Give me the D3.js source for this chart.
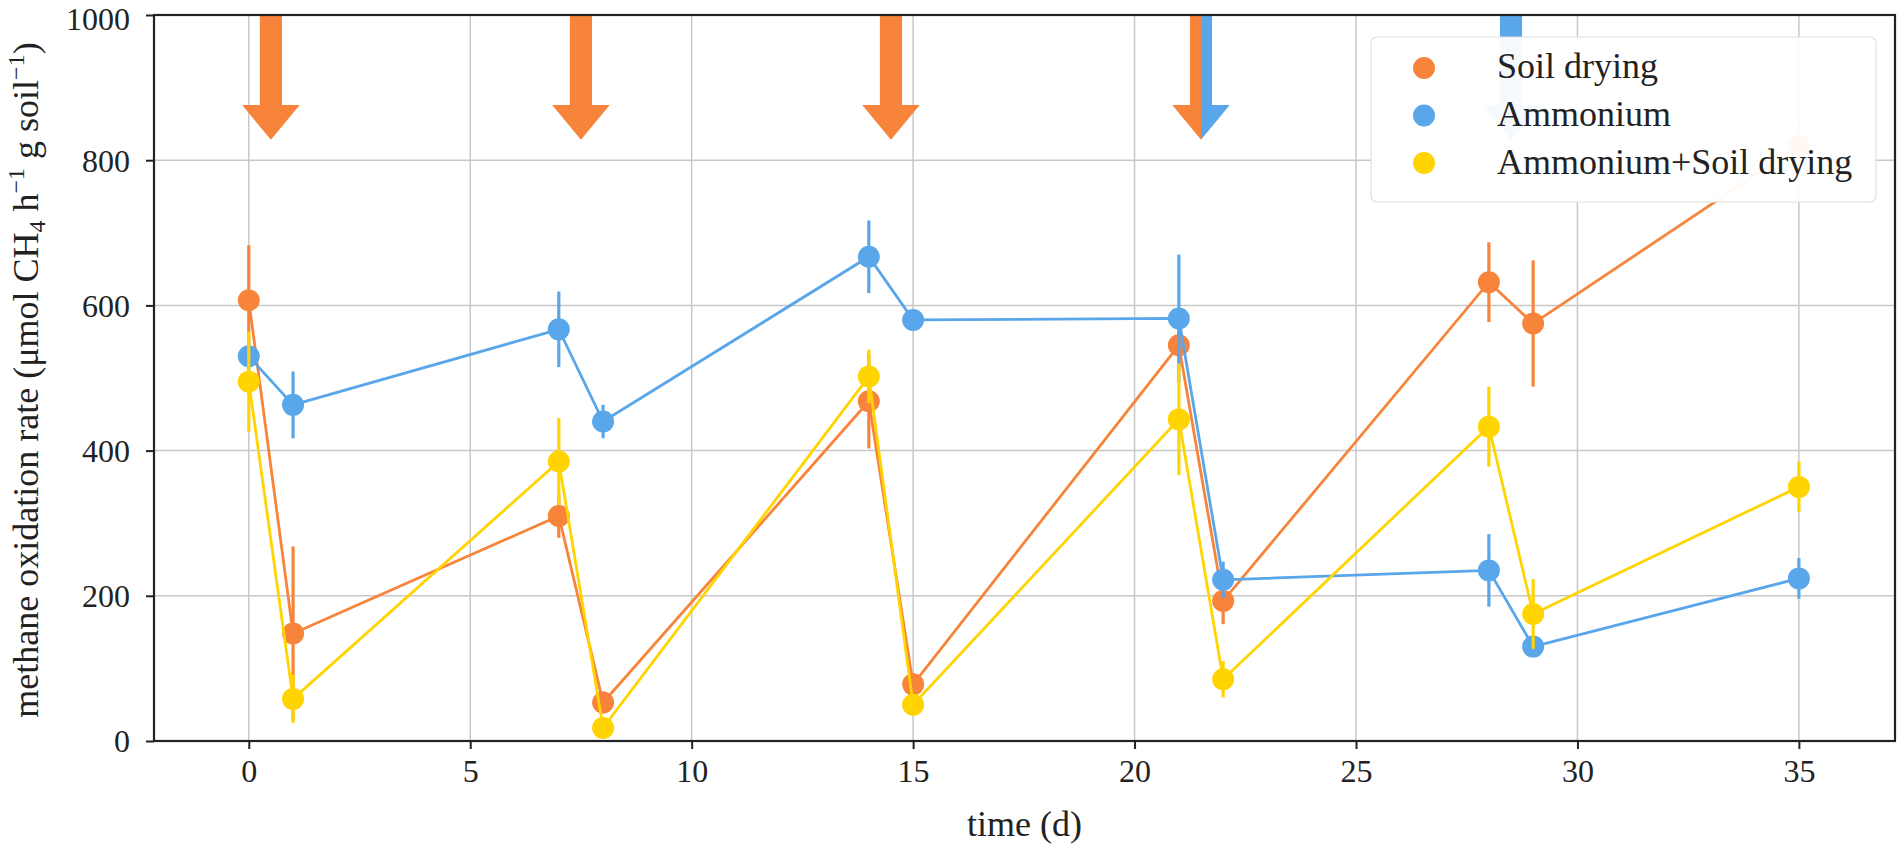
<!DOCTYPE html>
<html><head><meta charset="utf-8">
<script src="https://cdn.jsdelivr.net/npm/d3@7"></script>
<style>
body{margin:0;background:#fff}
svg{display:block}
text{font-family:"Liberation Serif","DejaVu Serif",serif;fill:#222}
</style>
</head><body><svg id="c" width="1900" height="847"></svg>
<script>
// ---- data ----
const days = [0, 1, 7, 8, 14, 15, 21, 22, 28, 29, 35];
const seriesNames = ["Soil drying", "Ammonium", "Ammonium+Soil drying"];
const soilDrying      = [607, 148, 310, 53, 468, 78, 545, 193, 632, 575, 820];
const soilDryingErr   = [76, 120, 30, 15, 65, 15, 30, 32, 55, 87, 40];
const ammonium        = [530, 463, 567, 440, 667, 580, 582, 222, 235, 130, 224];
const ammoniumErr     = [20, 46, 52, 23, 50, 10, 88, 25, 50, 12, 28];
const ammSoilDrying   = [495, 58, 385, 18, 502, 50, 443, 85, 433, 175, 350];
const ammSoilDryingErr= [69, 33, 60, 10, 37, 15, 77, 25, 55, 48, 35];
const xTicks = [0, 5, 10, 15, 20, 25, 30, 35];
const yTicks = [0, 200, 400, 600, 800, 1000];
const dryingArrowDays = [0.5, 7.5, 14.5, 21.5];
const ammoniumArrowDays = [21.5, 28.5];
const colors = ["#f7843a", "#5aa6ea", "#ffd400"];

const svg = d3.select("#c");
const L = 154, R = 1895, T = 15, B = 741;
const x = d3.scaleLinear().domain([-2.14, 37.17]).range([L, R]);
const y = d3.scaleLinear().domain([0, 1000]).range([B, T]);

svg.append("defs").append("clipPath").attr("id", "clip")
  .append("rect").attr("x", L).attr("y", T).attr("width", R - L).attr("height", B - T);

// grid
const grid = svg.append("g");
grid.selectAll("line.gx").data(xTicks).join("line")
  .attr("x1", d => x(d)).attr("x2", d => x(d)).attr("y1", T).attr("y2", B)
  .attr("stroke", "#c8c8c8").attr("stroke-width", 1.5);
grid.selectAll("line.gy").data(yTicks).join("line")
  .attr("y1", d => y(d)).attr("y2", d => y(d)).attr("x1", L).attr("x2", R)
  .attr("stroke", "#c8c8c8").attr("stroke-width", 1.5);

const plot = svg.append("g").attr("clip-path", "url(#clip)");

// arrows
const shaftHW = 0.25, headHW = 0.65, headTop = 876, tip = 828, arrowTop = 1010;
function arrowPath(xc, side) {
  const pts = [];
  if (side === "full" || side === "left") {
    pts.push([x(xc), y(arrowTop)], [x(xc - shaftHW), y(arrowTop)], [x(xc - shaftHW), y(headTop)],
             [x(xc - headHW), y(headTop)], [x(xc), y(tip)]);
  } else {
    pts.push([x(xc), y(arrowTop)], [x(xc), y(tip)]);
  }
  if (side === "full" || side === "right") {
    pts.push([x(xc + headHW), y(headTop)], [x(xc + shaftHW), y(headTop)], [x(xc + shaftHW), y(arrowTop)]);
  }
  return d3.line()(pts) + "Z";
}
dryingArrowDays.forEach(d => {
  const both = ammoniumArrowDays.includes(d);
  plot.append("path").attr("d", arrowPath(d, both ? "left" : "full")).attr("fill", colors[0]);
});
ammoniumArrowDays.forEach(d => {
  const both = dryingArrowDays.includes(d);
  plot.append("path").attr("d", arrowPath(d, both ? "right" : "full")).attr("fill", colors[1]);
});

// series
const series = [
  {vals: soilDrying, err: soilDryingErr},
  {vals: ammonium, err: ammoniumErr},
  {vals: ammSoilDrying, err: ammSoilDryingErr}
];
series.forEach((s, i) => {
  const g = plot.append("g");
  const pts = days.map((d, k) => ({d, v: s.vals[k], e: s.err[k]}));
  g.append("path").datum(pts)
    .attr("d", d3.line().x(p => x(p.d)).y(p => y(p.v)))
    .attr("fill", "none").attr("stroke", colors[i]).attr("stroke-width", 2.8);
  g.selectAll("line.err").data(pts).join("line")
    .attr("x1", p => x(p.d)).attr("x2", p => x(p.d))
    .attr("y1", p => y(p.v - p.e)).attr("y2", p => y(p.v + p.e))
    .attr("stroke", colors[i]).attr("stroke-width", 3.2);
  g.selectAll("circle").data(pts).join("circle")
    .attr("cx", p => x(p.d)).attr("cy", p => y(p.v)).attr("r", 11)
    .attr("fill", colors[i]);
});

// axes
const ax = svg.append("g").attr("transform", `translate(0,${B})`)
  .call(d3.axisBottom(x).tickValues(xTicks).tickSize(8).tickPadding(10).tickFormat(d3.format("d")));
const ay = svg.append("g").attr("transform", `translate(${L},0)`)
  .call(d3.axisLeft(y).tickValues(yTicks).tickSize(8).tickPadding(16).tickFormat(d3.format("d")));
[ax, ay].forEach(a => {
  a.select(".domain").remove();
  a.selectAll(".tick line").attr("stroke", "#222").attr("stroke-width", 2);
  a.selectAll(".tick text").attr("font-family", "Liberation Serif, serif").attr("font-size", 32).attr("fill", "#222");
});
ay.selectAll(".tick text").attr("dy", d => d === 1000 ? "0.44em" : "0.34em");

// spines
svg.append("rect").attr("x", L).attr("y", T).attr("width", R - L).attr("height", B - T)
  .attr("fill", "none").attr("stroke", "#222").attr("stroke-width", 2.2);

// labels
svg.append("text").attr("x", (L + R) / 2).attr("y", 836).attr("text-anchor", "middle")
  .attr("font-size", 36).text("time (d)");

const yl = svg.append("text").attr("transform", `translate(38,${(T + B) / 2 + 2}) rotate(-90)`)
  .attr("text-anchor", "middle").attr("font-size", 36);
yl.append("tspan").text("methane oxidation rate (μmol CH");
yl.append("tspan").attr("font-size", 24).attr("dy", 7).text("4");
yl.append("tspan").attr("dy", -7).text(" h");
yl.append("tspan").attr("font-size", 24).attr("dy", -14).text("−1");
yl.append("tspan").attr("dy", 14).text(" g soil");
yl.append("tspan").attr("font-size", 24).attr("dy", -14).text("−1");
yl.append("tspan").attr("dy", 14).text(")");

// legend
const lg = svg.append("g");
lg.append("rect").attr("x", 1371).attr("y", 37).attr("width", 505).attr("height", 165).attr("rx", 6)
  .attr("fill", "#fff").attr("fill-opacity", 0.94).attr("stroke", "#e0e0e0").attr("stroke-width", 1.2);
seriesNames.forEach((n, i) => {
  lg.append("circle").attr("cx", 1424).attr("cy", 68 + 47.5 * i).attr("r", 11).attr("fill", colors[i]);
  lg.append("text").attr("x", 1497).attr("y", 78 + 48 * i).attr("font-size", 36).text(n);
});
</script>
</body></html>
